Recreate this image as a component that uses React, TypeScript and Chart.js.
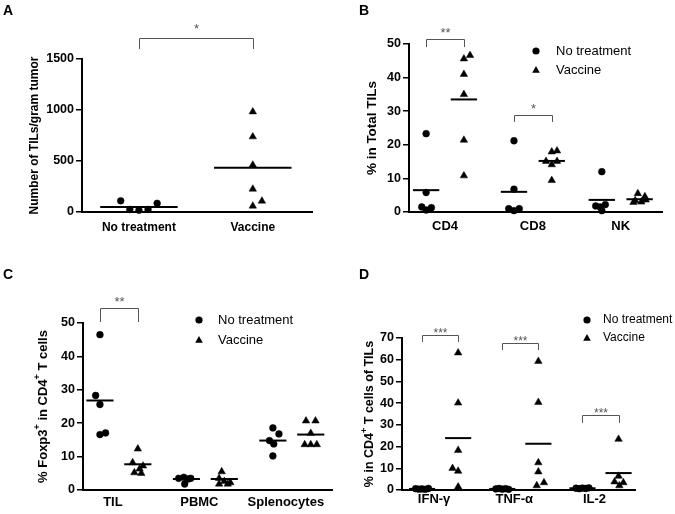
import { useEffect, useRef } from "react";
import { Chart, registerables } from "chart.js";

Chart.register(...registerables);

const FONT = "'Liberation Sans', Arial, Helvetica, sans-serif";
Chart.defaults.font.family = FONT;

// ---------- Panel A ----------
const aCategories = ["No treatment", "Vaccine"];
const aNoTreatment = [110, 25, 18, 25, 85];
const aNoTreatmentJitter = [-0.16, -0.08, 0, 0.08, 0.16];
const aVaccine = [983, 738, 461, 225, 59, 108];
const aVaccineJitter = [0, 0, 0, 0, 0, 0.08];
const aMeans = [50, 435];
const aYTicks = [0, 500, 1000, 1500];

// ---------- Panel B ----------
const bCategories = ["CD4", "CD8", "NK"];
const bNoTreatment = [
  [23.3, 5.8, 1.5, 0.6, 1.3],
  [21.2, 6.8, 1.0, 0.4, 1.0],
  [12.0, 1.8, 2.2, 0.4, 1.5],
];
const bNoTreatmentJitter = [
  [0, 0, -0.05, 0, 0.06],
  [0, 0, -0.06, 0, 0.06],
  [0, -0.07, 0.04, 0, -0.02],
];
const bVaccine = [
  [45.6, 46.6, 41.0, 35.0, 21.4, 10.8],
  [17.9, 18.2, 15.1, 15.1, 14.1, 9.4],
  [5.5, 4.6, 3.4, 3.0, 3.6, 2.9],
];
const bVaccineJitter = [
  [0, 0.07, 0, 0, 0, 0],
  [0, 0.06, -0.065, 0.06, 0, 0],
  [-0.02, 0.06, -0.05, 0.02, 0.07, -0.07],
];
const bNoTreatmentMeans = [6.5, 6.0, 3.6];
const bVaccineMeans = [33.5, 15.2, 3.8];
const bYTicks = [0, 10, 20, 30, 40, 50];

// ---------- Panel C ----------
const cCategories = ["TIL", "PBMC", "Splenocytes"];
const cNoTreatment = [
  [46.5, 28.3, 25.6, 16.6, 17.1],
  [3.5, 3.8, 3.5, 1.8, 3.3],
  [18.6, 16.8, 14.8, 13.8, 10.2],
];
const cNoTreatmentJitter = [
  [0, -0.05, 0, 0, 0.065],
  [-0.09, -0.03, 0.05, -0.02, 0.02],
  [0, 0.07, -0.04, 0.01, 0],
];
const cVaccine = [
  [12.3, 8.2, 7.2, 6.3, 5.2, 5.0],
  [5.5, 3.5, 1.8, 1.8, 2.6, 2.2],
  [20.7, 20.7, 17.0, 13.6, 13.6, 13.6],
];
const cVaccineJitter = [
  [0, -0.06, 0.06, 0.02, -0.04, 0.04],
  [-0.03, -0.06, -0.06, 0.04, 0, 0.07],
  [-0.055, 0.055, 0, -0.07, 0, 0.07],
];
const cNoTreatmentMeans = [26.8, 3.3, 14.8];
const cVaccineMeans = [7.7, 3.3, 16.6];
const cYTicks = [0, 10, 20, 30, 40, 50];

// ---------- Panel D ----------
const dCategories = ["IFN-γ", "TNF-α", "IL-2"];
const dNoTreatment = [
  [0.6, 0.4, 0.5, 0.3, 0.7],
  [0.5, 0.7, 0.4, 0.6, 0.3],
  [0.8, 0.6, 0.9, 0.7, 1.0],
];
const dNoTreatmentJitter = [
  [-0.08, -0.04, 0, 0.04, 0.08],
  [-0.08, -0.04, 0, 0.04, 0.08],
  [-0.08, -0.04, 0, 0.04, 0.08],
];
const dVaccine = [
  [63.2, 40.1, 18.3, 10.0, 8.7, 1.5],
  [59.3, 40.4, 12.6, 8.4, 2.0, 3.4],
  [23.4, 6.4, 3.8, 3.4, 2.0],
];
const dVaccineJitter = [
  [0, 0, 0, -0.07, 0, 0],
  [0, 0, 0, 0, -0.02, 0.07],
  [0, 0, -0.05, 0.06, 0.01],
];
const dNoTreatmentMeans = [0.5, 0.5, 0.8];
const dVaccineMeans = [23.9, 21.3, 7.8];
const dYTicks = [0, 10, 20, 30, 40, 50, 60, 70];

const legendLabels = ["No treatment", "Vaccine"];

type Pt = { x: number; y: number };
type Bracket = { x1: number; x2: number; top: number; leg: number; label: string };
type TitlePart = { text: string; sup?: boolean };

type Spec = {
  px: number; py: number; w: number; h: number;
  left: number; right: number; top: number; bottom: number;
  xMin: number; xMax: number; categories: string[];
  xFont: number; labelPadding: number; labelOffset: number;
  yTicks: number[]; yFont: number;
  titleParts: TitlePart[]; titleX: number; titleSize: number;
  nt: Pt[]; vac: Pt[]; means: Pt[]; meanHalf: number;
  brackets: Bracket[]; starGap: number; starSize: number;
  legend?: { x: number; y1: number; y2: number; textX: number; size: number };
  letter: string; letterX: number; letterY: number;
};

function grouped(values: number[][], jitter: number[][], shift: number): Pt[] {
  const pts: Pt[] = [];
  values.forEach((arr, ci) => arr.forEach((v, i) => pts.push({ x: ci + 1 + shift + jitter[ci][i], y: v })));
  return pts;
}

function meanPts(means: number[], shift: number): Pt[] {
  return means.map((m, ci) => ({ x: ci + 1 + shift, y: m }));
}

function drawTri(ctx: CanvasRenderingContext2D, x: number, y: number, r: number) {
  let rad = 0;
  const step = (2 * Math.PI) / 3;
  ctx.beginPath();
  ctx.moveTo(x + Math.sin(rad) * r, y - Math.cos(rad) * r);
  rad += step;
  ctx.lineTo(x + Math.sin(rad) * r, y - Math.cos(rad) * r);
  rad += step;
  ctx.lineTo(x + Math.sin(rad) * r, y - Math.cos(rad) * r);
  ctx.closePath();
  ctx.fill();
}

function makeDecor(spec: Spec) {
  return {
    id: "decor" + spec.letter,
    afterDraw(chart: any) {
      const ctx: CanvasRenderingContext2D = chart.ctx;
      const xs = chart.scales.x;
      const ys = chart.scales.y;
      const ca = chart.chartArea;
      ctx.save();
      // panel letter
      ctx.fillStyle = "#000";
      ctx.font = `bold 14px ${FONT}`;
      ctx.textAlign = "left";
      ctx.textBaseline = "alphabetic";
      ctx.fillText(spec.letter, spec.letterX, spec.letterY);

      // y-axis title with superscripts
      ctx.save();
      ctx.translate(spec.titleX, (ca.top + ca.bottom) / 2);
      ctx.rotate(-Math.PI / 2);
      const mainFont = `bold ${spec.titleSize}px ${FONT}`;
      const supFont = `bold ${Math.round(spec.titleSize * 0.72)}px ${FONT}`;
      let total = 0;
      const widths = spec.titleParts.map((p) => {
        ctx.font = p.sup ? supFont : mainFont;
        const wd = ctx.measureText(p.text).width;
        total += wd;
        return wd;
      });
      let cx = -total / 2;
      ctx.textBaseline = "middle";
      ctx.textAlign = "left";
      spec.titleParts.forEach((p, i) => {
        ctx.font = p.sup ? supFont : mainFont;
        ctx.fillText(p.text, cx, p.sup ? -spec.titleSize * 0.42 : 0);
        cx += widths[i];
      });
      ctx.restore();

      // significance brackets
      ctx.strokeStyle = "#555";
      ctx.fillStyle = "#555";
      ctx.lineWidth = 1;
      ctx.font = `${spec.starSize}px ${FONT}`;
      ctx.textAlign = "center";
      ctx.textBaseline = "alphabetic";
      spec.brackets.forEach((b) => {
        const x1 = Math.round(xs.getPixelForValue(b.x1)) + 0.5;
        const x2 = Math.round(xs.getPixelForValue(b.x2)) + 0.5;
        const yt = Math.round(ys.getPixelForValue(b.top)) + 0.5;
        const yl = ys.getPixelForValue(b.leg);
        ctx.beginPath();
        ctx.moveTo(x1, yl);
        ctx.lineTo(x1, yt);
        ctx.lineTo(x2, yt);
        ctx.lineTo(x2, yl);
        ctx.stroke();
        ctx.fillText(b.label, (x1 + x2) / 2, yt - spec.starGap + 0.58 * spec.starSize);
      });

      // legend
      if (spec.legend) {
        const lg = spec.legend;
        ctx.fillStyle = "#000";
        ctx.beginPath();
        ctx.arc(lg.x, lg.y1, 3.6, 0, Math.PI * 2);
        ctx.fill();
        drawTri(ctx, lg.x, lg.y2 + 0.5, 4.4);
        ctx.font = `${lg.size}px ${FONT}`;
        ctx.textAlign = "left";
        ctx.textBaseline = "middle";
        ctx.fillText(legendLabels[0], lg.textX, lg.y1);
        ctx.fillText(legendLabels[1], lg.textX, lg.y2);
      }
      ctx.restore();
    },
  };
}

function buildConfig(spec: Spec): any {
  const meanSets = spec.means.map((m) => ({
    data: [
      { x: m.x - spec.meanHalf, y: m.y },
      { x: m.x + spec.meanHalf, y: m.y },
    ],
    showLine: true,
    borderColor: "#000",
    borderWidth: 2,
    pointRadius: 0,
    clip: false,
  }));
  const yMax = spec.yTicks[spec.yTicks.length - 1];
  return {
    type: "scatter",
    data: {
      datasets: [
        {
          label: legendLabels[0],
          data: spec.nt,
          pointStyle: "circle",
          pointRadius: 3.4,
          backgroundColor: "#000",
          borderColor: "#000",
          borderWidth: 0.5,
          clip: false,
        },
        {
          label: legendLabels[1],
          data: spec.vac,
          pointStyle: "triangle",
          pointRadius: 4.3,
          backgroundColor: "#000",
          borderColor: "#000",
          borderWidth: 0.5,
          clip: false,
        },
        ...meanSets,
      ],
    },
    options: {
      animation: false,
      responsive: false,
      events: [],
      layout: { padding: { left: 0, right: spec.w - spec.right, top: spec.top, bottom: 0 } },
      plugins: { legend: { display: false }, tooltip: { enabled: false }, title: { display: false } },
      scales: {
        x: {
          type: "linear",
          min: spec.xMin,
          max: spec.xMax,
          afterBuildTicks: (ax: any) => {
            ax.ticks = spec.categories.map((_, i) => ({ value: i + 1 }));
          },
          afterFit: (ax: any) => {
            ax.height = spec.h - spec.bottom;
          },
          grid: { display: false, drawTicks: false },
          border: { display: true, color: "#000", width: 2 },
          ticks: {
            autoSkip: false,
            maxRotation: 0,
            minRotation: 0,
            padding: spec.labelPadding,
            labelOffset: spec.labelOffset,
            color: "#000",
            font: { family: FONT, size: spec.xFont, weight: "bold" },
            callback: (_v: any, i: number) => spec.categories[i],
          },
        },
        y: {
          type: "linear",
          min: 0,
          max: yMax,
          afterBuildTicks: (ax: any) => {
            ax.ticks = spec.yTicks.map((v) => ({ value: v }));
          },
          afterFit: (ax: any) => {
            ax.width = spec.left;
          },
          grid: { drawOnChartArea: false, drawTicks: true, tickLength: 6, color: "#000", lineWidth: 1.5 },
          border: { display: true, color: "#000", width: 2 },
          ticks: {
            padding: 2,
            color: "#000",
            font: { family: FONT, size: spec.yFont, weight: "bold" },
            callback: (v: any) => String(v),
          },
        },
      },
    },
    plugins: [makeDecor(spec)],
  };
}

const specs: Spec[] = [
  {
    px: 0, py: 0, w: 337, h: 257,
    left: 82, right: 312, top: 59, bottom: 212,
    xMin: 0.5, xMax: 2.52, categories: aCategories,
    xFont: 12, labelPadding: 8, labelOffset: 0,
    yTicks: aYTicks, yFont: 12.5,
    titleParts: [{ text: "Number of TILs/gram tumor" }], titleX: 35, titleSize: 12,
    nt: aNoTreatment.map((v, i) => ({ x: 1 + aNoTreatmentJitter[i], y: v })),
    vac: aVaccine.map((v, i) => ({ x: 2 + aVaccineJitter[i], y: v })),
    means: aMeans.map((m, i) => ({ x: i + 1, y: m })), meanHalf: 0.34,
    brackets: [{ x1: 1, x2: 2, top: 1706, leg: 1598, label: "*" }], starGap: 13, starSize: 13,
    letter: "A", letterX: 3, letterY: 15,
  },
  {
    px: 337, py: 0, w: 338, h: 257,
    left: 72, right: 325, top: 44, bottom: 212,
    xMin: 0.59, xMax: 3.47, categories: bCategories,
    xFont: 13, labelPadding: 7, labelOffset: 0,
    yTicks: bYTicks, yFont: 12.5,
    titleParts: [{ text: "% in Total TILs" }], titleX: 35, titleSize: 13.5,
    nt: grouped(bNoTreatment, bNoTreatmentJitter, -0.215),
    vac: grouped(bVaccine, bVaccineJitter, 0.215),
    means: [...meanPts(bNoTreatmentMeans, -0.215), ...meanPts(bVaccineMeans, 0.215)], meanHalf: 0.15,
    brackets: [
      { x1: 1 - 0.215, x2: 1 + 0.215, top: 51.5, leg: 49.1, label: "**" },
      { x1: 2 - 0.215, x2: 2 + 0.215, top: 28.9, leg: 26.8, label: "*" },
    ],
    starGap: 10.5, starSize: 13,
    legend: { x: 199, y1: 51, y2: 70, textX: 219, size: 13 },
    letter: "B", letterX: 22, letterY: 15,
  },
  {
    px: 0, py: 257, w: 337, h: 257,
    left: 83, right: 333, top: 66, bottom: 233,
    xMin: 0.585, xMax: 3.467, categories: cCategories,
    xFont: 13, labelPadding: 5, labelOffset: -6,
    yTicks: cYTicks, yFont: 12.5,
    titleParts: [
      { text: "% Foxp3" }, { text: "+", sup: true }, { text: " in CD4" }, { text: "+", sup: true }, { text: " T cells" },
    ],
    titleX: 43, titleSize: 13,
    nt: grouped(cNoTreatment, cNoTreatmentJitter, -0.219),
    vac: grouped(cVaccine, cVaccineJitter, 0.219),
    means: [...meanPts(cNoTreatmentMeans, -0.219), ...meanPts(cVaccineMeans, 0.219)], meanHalf: 0.157,
    brackets: [{ x1: 1 - 0.219, x2: 1 + 0.219, top: 54.5, leg: 50.3, label: "**" }],
    starGap: 10.3, starSize: 13,
    legend: { x: 199, y1: 63, y2: 83, textX: 218, size: 13 },
    letter: "C", letterX: 3, letterY: 22,
  },
  {
    px: 337, py: 257, w: 338, h: 257,
    left: 65, right: 298, top: 81, bottom: 233,
    xMin: 0.525, xMax: 3.43, categories: dCategories,
    xFont: 13, labelPadding: 2, labelOffset: -6,
    yTicks: dYTicks, yFont: 12.5,
    titleParts: [{ text: "% in CD4" }, { text: "+", sup: true }, { text: " T cells of TILs" }],
    titleX: 33, titleSize: 12.5,
    nt: grouped(dNoTreatment, dNoTreatmentJitter, -0.225),
    vac: grouped(dVaccine, dVaccineJitter, 0.225),
    means: [...meanPts(dNoTreatmentMeans, -0.225), ...meanPts(dVaccineMeans, 0.225)], meanHalf: 0.163,
    brackets: [
      { x1: 1 - 0.225, x2: 1 + 0.225, top: 71.4, leg: 68.2, label: "***" },
      { x1: 2 - 0.225, x2: 2 + 0.225, top: 67.7, leg: 64.5, label: "***" },
      { x1: 3 - 0.225, x2: 3 + 0.225, top: 34.5, leg: 30.9, label: "***" },
    ],
    starGap: 5.5, starSize: 12,
    legend: { x: 250, y1: 63, y2: 81, textX: 266, size: 12 },
    letter: "D", letterX: 22, letterY: 22,
  },
];

function Panel({ spec }: { spec: Spec }) {
  const ref = useRef<HTMLCanvasElement>(null);
  useEffect(() => {
    if (!ref.current) return;
    const chart = new Chart(ref.current, buildConfig(spec));
    return () => chart.destroy();
  }, [spec]);
  return (
    <canvas
      ref={ref}
      width={spec.w}
      height={spec.h}
      style={{ position: "absolute", left: spec.px, top: spec.py, width: spec.w, height: spec.h }}
    />
  );
}

export default function App() {
  return (
    <div style={{ position: "absolute", left: 0, top: 0, width: 675, height: 514, background: "#fff", overflow: "hidden" }}>
      {specs.map((s) => (
        <Panel key={s.letter} spec={s} />
      ))}
    </div>
  );
}
